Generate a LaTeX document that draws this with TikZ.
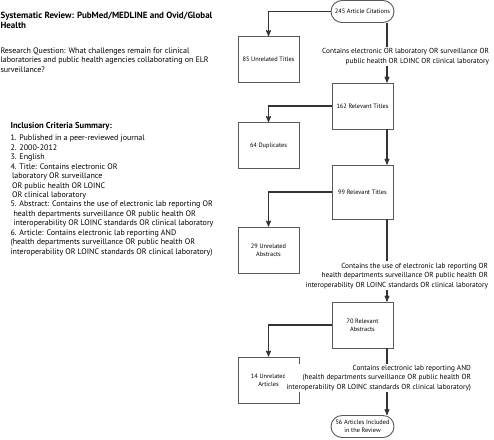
\documentclass[tikz,border=0pt]{standalone}
\usepackage{fontspec}
\setmainfont{PT Sans}
\usepackage{tikz}
\usetikzlibrary{arrows}

\begin{document}
\begin{tikzpicture}[->,>=stealth',auto,x=1pt,y=-1pt,line width=1.1pt,draw=black!80]
  \tikzstyle{box}=[rectangle,draw=black!65,line width=0.9pt,fill=white,minimum width=61pt,minimum height=46pt,inner sep=1pt,align=center,font=\fontsize{6.3}{7.6}\selectfont]
  \tikzstyle{term}=[box,rounded corners=11pt,minimum height=22pt,minimum width=63pt]
  \tikzstyle{crit}=[fill=white,align=right,anchor=base east,inner sep=1.5pt,font=\fontsize{7.3}{9.2}\selectfont]
  \tikzstyle{note}=[anchor=base west,align=left,inner sep=0pt]
  \tikzstyle{branch}=[to path={-| (\tikztotarget)}]
  \useasboundingbox (0,0) rectangle (494,439);

  % left column text (base = last line)
  \node[note,font=\bfseries\fontsize{9}{10.5}\selectfont] (title) at (0,28.5)
    {Systematic Review: PubMed/MEDLINE and Ovid/Global\\Health};
  \node[note,font=\fontsize{8}{9.2}\selectfont] (question) at (0,72)
    {Research Question: What challenges remain for clinical\\
     laboratories and public health agencies collaborating on ELR\\
     surveillance?};
  \node[note,font=\fontsize{8}{9.42}\selectfont] (summary) at (10,254)
    {{\bfseries\fontsize{8.6}{9.42}\selectfont Inclusion Criteria Summary:}\\[2.6pt]
     1. Published in a peer-reviewed journal\\
     2. 2000-2012\\
     3. English\\
     4. Title: Contains electronic OR\\
     \hspace{1.5pt}laboratory OR surveillance\\
     \hspace{1.5pt}OR public health OR LOINC\\
     \hspace{1.5pt}OR clinical laboratory\\
     5. Abstract: Contains the use of electronic lab reporting OR\\
     \hspace{3pt}health departments surveillance OR public health OR\\
     \hspace{3pt}interoperability OR LOINC standards OR clinical laboratory\\
     6. Article: Contains electronic lab reporting AND\\
     (health departments surveillance OR public health OR\\
     interoperability OR LOINC standards OR clinical laboratory)};

  % flow chart
  \node[term] (C)  at (362.5,11.5)  {245 Article Citations};
  \node[box]  (U1) at (268.5,59.5)  {85 Unrelated Titles};
  \node[box]  (R1) at (362.5,106)   {162 Relevant Titles};
  \node[box]  (D)  at (268.5,145.5) {64 Duplicates};
  \node[box,minimum height=54pt] (R2) at (362.5,192) {99 Relevant Titles};
  \node[box]  (U2) at (268.5,250)   {29 Unrelated\\Abstracts};
  \node[box]  (R3) at (362.5,325)   {70 Relevant\\Abstracts};
  \node[box]  (U3) at (268.5,380)   {14 Unrelated\\Articles};
  \node[term] (F)  at (362.5,426.5) {56 Articles Included\\in the Review};

  \path (C) edge[branch] (U1)
        ([xshift=24.5pt]C.south) edge ([xshift=24.5pt]R1.north)
        (R1) edge[branch] (D)
        ([xshift=24.5pt]R1.south) edge ([xshift=24.5pt]R2.north)
        (R2) edge[branch] (U2)
        ([xshift=24.5pt]R2.south) edge ([xshift=24.5pt]R3.north)
        (R3) edge[branch] (U3)
        ([xshift=24.5pt]R3.south) edge ([xshift=24.5pt]F.north);

  % criteria on the main line (base = last line)
  \node[crit] (L1) at (491,63)
    {Contains electronic OR laboratory OR surveillance OR\\
     public health OR LOINC OR clinical laboratory};
  \node[crit,font=\fontsize{7.3}{9.5}\selectfont] (L2) at (490,287)
    {Contains the use of electronic lab reporting OR\\
     health departments surveillance OR public health OR\\
     interoperability OR LOINC standards OR clinical laboratory};
  \node[crit] (L3) at (473,389)
    {Contains electronic lab reporting AND\\
     (health departments surveillance OR public health OR\\
     interoperability OR LOINC standards OR clinical laboratory)};
\end{tikzpicture}
\end{document}
